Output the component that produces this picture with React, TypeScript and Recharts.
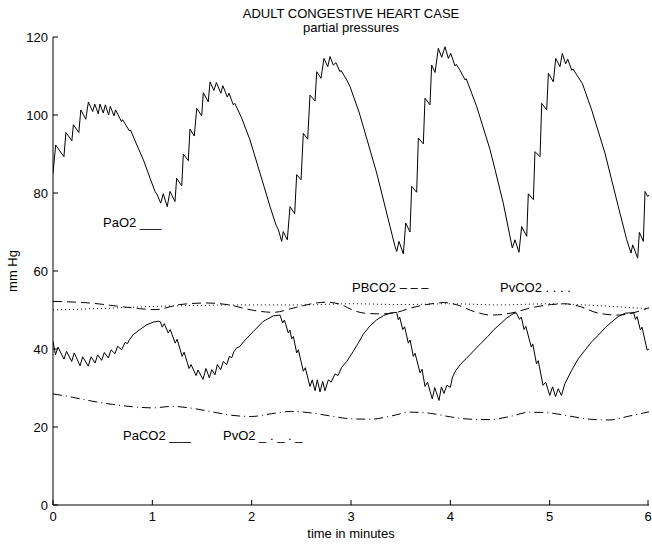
import React from 'react';
import { LineChart, Line, XAxis, YAxis } from 'recharts';

// Arterial O2 partial pressure (time in min, mm Hg)
const PAO2: [number, number][] = [
  [0, 85], [0.027, 92.3], [0.11, 89.3], [0.13, 95.5], [0.19, 93.4], [0.205, 97.5],
  [0.26, 95.5], [0.28, 101.3], [0.33, 98.9], [0.356, 103.3], [0.4, 100.9], [0.42, 102.8],
  [0.456, 100.3], [0.473, 102.8], [0.506, 100.5], [0.527, 102.6], [0.56, 100.0], [0.577, 102.2],
  [0.614, 99.8], [0.63, 101.3], [0.69, 98.3], [0.7, 98.8], [0.77, 95.9], [0.78, 96.2],
  [0.836, 92.8], [0.91, 88.5], [0.977, 83.8], [1.027, 80.4], [1.05, 79.5], [1.084, 77.4],
  [1.11, 79.8], [1.15, 76.5], [1.178, 80.4], [1.228, 77.8], [1.245, 83.8], [1.296, 81.8],
  [1.312, 90.0], [1.362, 88.3], [1.379, 96.4], [1.422, 94.6], [1.447, 101.7], [1.497, 99.8],
  [1.513, 105.7], [1.563, 103.4], [1.581, 108.5], [1.62, 106.3], [1.645, 108.3], [1.69, 105.6],
  [1.71, 107.5], [1.755, 104.6], [1.772, 105.6], [1.815, 102.6], [1.83, 103.0], [1.9, 99.2],
  [1.983, 93.6], [2.084, 85.1], [2.185, 76.5], [2.245, 71.8], [2.27, 70.5], [2.302, 67.6],
  [2.318, 70.1], [2.359, 68.0], [2.386, 76.5], [2.433, 74.7], [2.453, 84.7], [2.497, 83.4],
  [2.52, 95.3], [2.564, 93.8], [2.587, 105.1], [2.638, 103.6], [2.655, 111.1], [2.698, 109.4],
  [2.728, 114.5], [2.766, 112.4], [2.789, 115.0], [2.822, 112.8], [2.849, 113.4], [2.889, 111.1],
  [2.9, 111.4], [2.957, 109.0], [2.99, 107.3], [3.084, 100.5], [3.124, 97.0], [3.259, 85.1],
  [3.393, 71.4], [3.443, 66.3], [3.46, 65.0], [3.483, 67.6], [3.527, 64.4], [3.551, 72.3],
  [3.594, 70.0], [3.611, 81.7], [3.661, 80.2], [3.678, 94.1], [3.728, 92.6], [3.745, 104.3],
  [3.795, 102.6], [3.812, 112.8], [3.846, 110.9], [3.879, 117.1], [3.913, 114.8], [3.946, 117.5],
  [3.98, 114.5], [4.004, 115.8], [4.047, 112.6], [4.06, 113.0], [4.097, 111.5], [4.148, 109.0],
  [4.16, 109.3], [4.265, 102.2], [4.4, 91.1], [4.45, 86.0], [4.533, 77.4], [4.594, 69.7],
  [4.624, 65.9], [4.651, 68.0], [4.691, 64.8], [4.718, 71.4], [4.769, 68.9], [4.785, 79.8],
  [4.836, 78.3], [4.852, 90.6], [4.903, 89.3], [4.92, 103.0], [4.97, 101.3], [4.987, 110.7],
  [5.037, 108.5], [5.061, 114.5], [5.104, 112.4], [5.127, 115.8], [5.161, 113.1], [5.182, 114.3],
  [5.222, 111.5], [5.235, 111.8], [5.272, 110.3], [5.329, 108.1], [5.423, 101.3], [5.557, 90.2],
  [5.691, 76.5], [5.776, 68.0], [5.819, 64.6], [5.836, 66.7], [5.886, 63.3], [5.903, 69.9],
  [5.943, 67.6], [5.96, 80.4], [5.987, 79.1], [6.0, 79.5],
];

// Arterial CO2 partial pressure
const PACO2: [number, number][] = [
  [0, 42.0], [0.025, 38.5], [0.05, 40.5], [0.11, 37.4], [0.137, 39.4], [0.188, 36.8],
  [0.214, 39.0], [0.272, 35.7], [0.299, 38.0], [0.355, 35.6], [0.383, 38.0], [0.423, 36.4],
  [0.45, 38.5], [0.49, 37.1], [0.517, 39.1], [0.557, 37.7], [0.584, 39.8], [0.624, 38.8],
  [0.651, 40.7], [0.691, 39.8], [0.725, 41.7], [0.75, 41.4], [0.77, 42.4], [0.808, 43.7],
  [0.876, 45.0], [0.943, 46.2], [1.01, 46.9], [1.06, 47.1], [1.08, 47.0], [1.1, 45.6],
  [1.12, 46.5], [1.16, 44.1], [1.18, 45.0], [1.23, 41.5], [1.25, 42.5], [1.3, 38.1],
  [1.32, 39.2], [1.37, 35.0], [1.39, 36.0], [1.44, 33.2], [1.46, 34.6], [1.51, 32.2],
  [1.54, 35.0], [1.574, 32.6], [1.598, 34.7], [1.631, 33.4], [1.654, 36.0], [1.688, 34.7],
  [1.714, 36.8], [1.749, 36.0], [1.775, 38.1], [1.8, 37.8], [1.82, 39.3], [1.849, 40.3],
  [1.88, 40.6], [1.916, 41.8], [2.017, 44.5], [2.117, 47.1], [2.218, 48.5], [2.285, 48.7],
  [2.312, 46.7], [2.33, 47.4], [2.369, 44.1], [2.385, 44.8], [2.403, 42.6], [2.42, 43.2],
  [2.453, 39.0], [2.47, 39.8], [2.52, 34.3], [2.54, 35.2], [2.587, 30.4], [2.61, 32.1],
  [2.638, 29.3], [2.661, 32.1], [2.688, 29.0], [2.715, 31.7], [2.738, 29.3], [2.772, 32.1],
  [2.8, 31.5], [2.839, 33.6], [2.87, 33.2], [2.906, 35.3], [2.957, 36.8], [3.023, 39.4],
  [3.084, 42.0], [3.124, 43.8], [3.19, 45.9], [3.259, 47.5], [3.33, 48.6], [3.393, 49.2],
  [3.46, 49.4], [3.476, 47.5], [3.49, 48.2], [3.521, 45.0], [3.54, 45.7], [3.577, 41.5],
  [3.595, 42.3], [3.627, 38.1], [3.645, 38.9], [3.695, 33.9], [3.715, 34.8], [3.745, 30.4],
  [3.77, 31.5], [3.818, 27.2], [3.843, 30.1], [3.886, 26.8], [3.91, 30.3], [3.936, 28.6],
  [3.965, 30.7], [4.0, 30.2], [4.022, 32.8], [4.055, 34.5], [4.106, 36.2], [4.158, 37.5],
  [4.241, 39.7], [4.31, 41.5], [4.376, 43.2], [4.44, 45.0], [4.511, 46.6], [4.57, 48.0],
  [4.63, 49.0], [4.663, 49.3], [4.697, 47.6], [4.715, 48.2], [4.742, 45.0], [4.76, 45.8],
  [4.815, 40.5], [4.83, 41.3], [4.867, 36.2], [4.885, 37.0], [4.933, 30.7], [4.96, 31.5],
  [5.001, 28.1], [5.029, 30.3], [5.059, 27.8], [5.086, 29.8], [5.119, 28.1], [5.153, 31.1],
  [5.221, 34.5], [5.288, 37.5], [5.356, 39.7], [5.42, 41.8], [5.492, 43.6], [5.56, 45.5],
  [5.627, 47.0], [5.69, 48.3], [5.762, 49.2], [5.846, 49.3], [5.863, 47.6], [5.88, 48.3],
  [5.913, 44.9], [5.93, 45.6], [5.981, 39.7], [6.0, 40.0],
];

// Brain CO2 partial pressure
const PBCO2: [number, number][] = [
  [0, 52.2], [0.37, 51.8], [0.71, 50.8], [1.03, 50.1], [1.28, 51.4], [1.55, 51.8],
  [1.75, 51.4], [2.02, 49.9], [2.22, 49.4], [2.42, 50.5], [2.65, 51.8], [2.75, 52.0],
  [2.9, 51.4], [3.0, 50.2], [3.13, 49.2], [3.3, 49.0], [3.46, 49.4], [3.6, 50.5],
  [3.74, 51.3], [3.94, 51.9], [4.07, 51.3], [4.24, 49.6], [4.41, 48.7], [4.61, 49.2],
  [4.82, 50.6], [5.02, 51.4], [5.15, 51.6], [5.29, 51.0], [5.49, 49.2], [5.69, 48.7],
  [5.83, 49.2], [6.0, 50.6],
];

// Venous CO2 partial pressure
const PVCO2: [number, number][] = [
  [0, 50.0], [0.5, 50.4], [1.0, 50.9], [1.5, 51.2], [2.0, 51.3], [2.5, 51.3],
  [3.0, 51.6], [3.5, 51.4], [4.0, 51.6], [4.5, 51.3], [5.0, 51.6], [5.5, 51.1], [6.0, 50.3],
];

// Venous O2 partial pressure
const PVO2: [number, number][] = [
  [0, 28.5], [0.2, 27.6], [0.4, 26.6], [0.6, 25.8], [0.8, 25.2], [1.0, 24.9],
  [1.2, 25.3], [1.4, 24.8], [1.6, 23.9], [1.8, 23.0], [2.0, 22.7], [2.2, 23.4],
  [2.4, 24.0], [2.6, 23.6], [2.8, 22.8], [3.0, 22.1], [3.2, 22.0], [3.4, 22.8],
  [3.6, 23.8], [3.8, 23.5], [4.0, 22.6], [4.2, 22.0], [4.4, 21.9], [4.6, 22.7],
  [4.8, 23.8], [5.0, 23.6], [5.2, 22.8], [5.4, 22.0], [5.6, 21.8], [5.8, 22.8], [6.0, 23.9],
];

const X_TICKS = [0, 1, 2, 3, 4, 5, 6];
const Y_TICKS = [0, 20, 40, 60, 80, 100, 120];

const TITLE = 'ADULT CONGESTIVE HEART CASE';
const SUBTITLE = 'partial pressures';
const X_LABEL = 'time in minutes';
const Y_LABEL = 'mm Hg';

const FONT = '"Liberation Sans", Arial, Helvetica, sans-serif';
const FS = 13;
const TICK_LEN = 5;

const toPoints = (pairs: [number, number][]) => pairs.map(([t, v]) => ({ t, v }));

const BottomTick = (props: any) => {
  const { x, y, payload } = props;
  return (
    <g>
      <line x1={x} y1={y} x2={x} y2={y - TICK_LEN} stroke="#000" strokeWidth={1} />
      <text x={x} y={y + 15.5} textAnchor="middle" fontFamily={FONT} fontSize={FS} fill="#000">
        {payload.value}
      </text>
    </g>
  );
};

const TopTick = (props: any) => {
  const { x, y } = props;
  return <line x1={x} y1={y} x2={x} y2={y + TICK_LEN} stroke="#000" strokeWidth={1} />;
};

const LeftTick = (props: any) => {
  const { x, y, payload } = props;
  return (
    <g>
      <line x1={x} y1={y} x2={x + TICK_LEN} y2={y} stroke="#000" strokeWidth={1} />
      <text x={x - 5} y={y + 4.5} textAnchor="end" fontFamily={FONT} fontSize={FS} fill="#000">
        {payload.value}
      </text>
    </g>
  );
};

const RightTick = (props: any) => {
  const { x, y } = props;
  return <line x1={x} y1={y} x2={x - TICK_LEN} y2={y} stroke="#000" strokeWidth={1} />;
};

const txt = { fontFamily: FONT, fontSize: FS, fill: '#000' } as const;

export default function App() {
  return (
    <div style={{ position: 'absolute', left: 0, top: 0, width: 652, height: 544, background: '#fff' }}>
      <LineChart width={652} height={544} margin={{ top: 37, right: 3, left: 13, bottom: 8 }}>
        <XAxis
          dataKey="t"
          type="number"
          domain={[0, 6]}
          ticks={X_TICKS}
          allowDataOverflow
          height={31}
          tickSize={0}
          tickMargin={0}
          tickLine={false}
          axisLine={{ stroke: '#000', strokeWidth: 1 }}
          tick={BottomTick}
        />
        <XAxis
          xAxisId="top"
          orientation="top"
          dataKey="t"
          type="number"
          domain={[0, 6]}
          ticks={X_TICKS}
          allowDataOverflow
          height={0}
          tickSize={0}
          tickMargin={0}
          tickLine={false}
          axisLine={{ stroke: '#000', strokeWidth: 1 }}
          tick={TopTick}
        />
        <YAxis
          type="number"
          domain={[0, 120]}
          ticks={Y_TICKS}
          allowDataOverflow
          width={40}
          tickSize={0}
          tickMargin={0}
          tickLine={false}
          axisLine={{ stroke: '#000', strokeWidth: 1 }}
          tick={LeftTick}
        />
        <YAxis
          yAxisId="right"
          orientation="right"
          type="number"
          domain={[0, 120]}
          ticks={Y_TICKS}
          allowDataOverflow
          width={0}
          tickSize={0}
          tickMargin={0}
          tickLine={false}
          axisLine={{ stroke: '#000', strokeWidth: 1 }}
          tick={RightTick}
        />
        <Line data={toPoints(PAO2)} dataKey="v" type="linear" stroke="#000" strokeWidth={1} dot={false} isAnimationActive={false} />
        <Line data={toPoints(PACO2)} dataKey="v" type="linear" stroke="#000" strokeWidth={1} dot={false} isAnimationActive={false} />
        <Line data={toPoints(PBCO2)} dataKey="v" type="monotone" stroke="#000" strokeWidth={1} strokeDasharray="9 5" dot={false} isAnimationActive={false} />
        <Line data={toPoints(PVCO2)} dataKey="v" type="monotone" stroke="#000" strokeWidth={1} strokeDasharray="1 3" dot={false} isAnimationActive={false} />
        <Line data={toPoints(PVO2)} dataKey="v" type="monotone" stroke="#000" strokeWidth={1} strokeDasharray="9 4 1 4" dot={false} isAnimationActive={false} />
      </LineChart>
      <svg width={652} height={544} style={{ position: 'absolute', left: 0, top: 0, pointerEvents: 'none' }}>
        <text x={351} y={18} textAnchor="middle" {...txt}>{TITLE}</text>
        <text x={351} y={32} textAnchor="middle" {...txt}>{SUBTITLE}</text>
        <text x={351} y={537.5} textAnchor="middle" {...txt}>{X_LABEL}</text>
        <text transform="translate(17,271) rotate(-90)" textAnchor="middle" {...txt}>{Y_LABEL}</text>
        <text x={103} y={227} {...txt}>PaO2 ___</text>
        <text x={352} y={292} {...txt}>PBCO2 – – –</text>
        <text x={500} y={292} {...txt}>PvCO2 . . . .</text>
        <text x={123} y={440} {...txt}>PaCO2 ___</text>
        <text x={223} y={440} {...txt}>PvO2 _ . _ . _</text>
      </svg>
    </div>
  );
}
